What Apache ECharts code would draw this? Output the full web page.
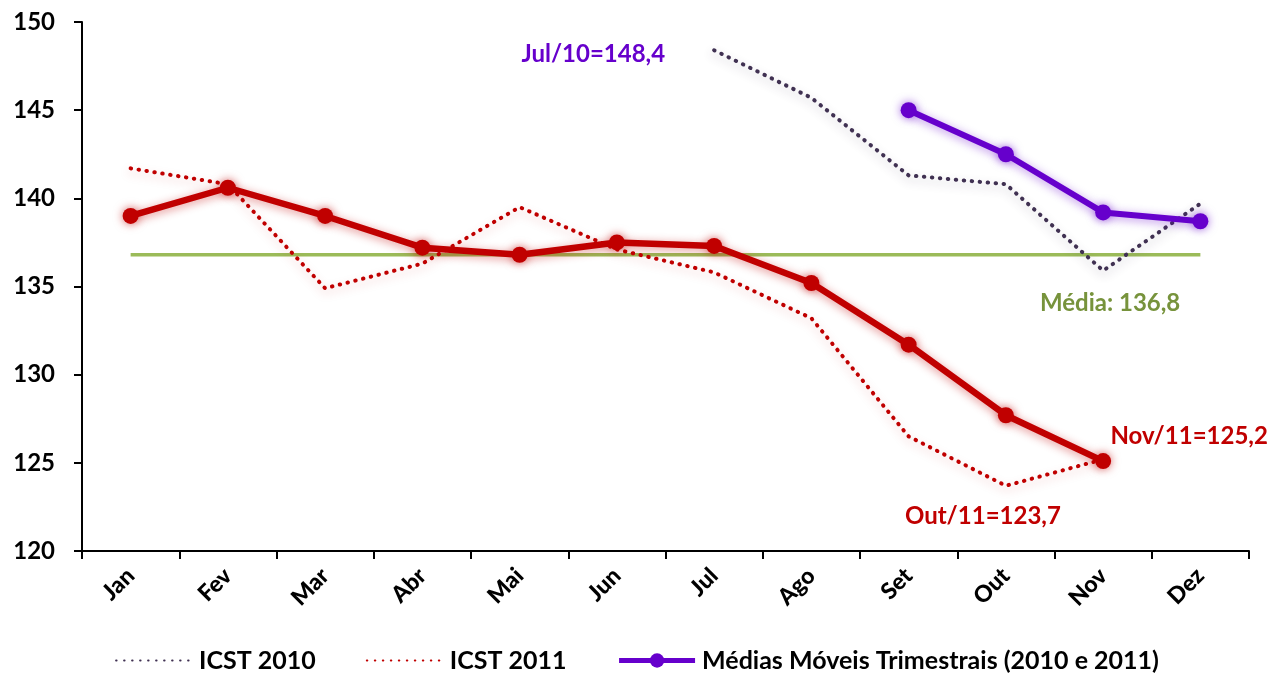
<!DOCTYPE html>
<html>
<head>
<meta charset="utf-8">
<script src="https://cdn.jsdelivr.net/npm/echarts@6/dist/echarts.min.js"></script>
<style>
html,body{margin:0;padding:0;background:#fff;}
#chart{width:1274px;height:675px;}
</style>
</head>
<body>
<div id="chart"></div>
<script>
var months = ['Jan','Fev','Mar','Abr','Mai','Jun','Jul','Ago','Set','Out','Nov','Dez'];
var icst2010 = [null,null,null,null,null,null,148.4,145.7,141.3,140.8,135.9,139.7];
var icst2011 = [141.7,140.8,134.9,136.3,139.5,137.1,135.8,133.2,126.5,123.7,125.2,null];
var mediaMovel2011 = [139.0,140.6,139.0,137.2,136.8,137.5,137.3,135.2,131.7,127.7,125.1,null];
var mediaMovel2010 = [null,null,null,null,null,null,null,null,145.0,142.5,139.2,138.7];
var mediaGeral = [136.8,136.8,136.8,136.8,136.8,136.8,136.8,136.8,136.8,136.8,136.8,136.8];
var yTicks = {min:120, max:150, interval:5};

var FONT = 'Lato';
var RED = '#c00000', PURPLE = '#6600cc', DARK = '#403152', GREEN = '#9bbb59', GREEN_TXT = '#77933c';
var MM = 'Médias Móveis Trimestrais (2010 e 2011)';

function labelAt(arr, idx, lbl){
  return arr.map(function(v,i){
    if(i===idx && v!=null){
      return {value:v, symbol:'circle', symbolSize:2, itemStyle:{color:'rgba(0,0,0,0)', borderWidth:0, shadowBlur:0}, label:lbl};
    }
    return v;
  });
}
var dotted = [0.5, 7.5];

var chart = echarts.init(document.getElementById('chart'));
chart.setOption({
  backgroundColor:'#fff',
  animation:false,
  textStyle:{fontFamily:FONT},
  grid:{left:82, right:25, top:22, bottom:124, containLabel:false},
  legend:{
    bottom:-3, left:'center',
    data:[
      {name:'ICST 2010', itemStyle:{color:'rgba(0,0,0,0)', borderWidth:0}},
      {name:'ICST 2011', itemStyle:{color:'rgba(0,0,0,0)', borderWidth:0}},
      {name:MM, lineStyle:{width:5}}
    ],
    itemWidth:76, itemHeight:18, itemGap:50,
    textStyle:{fontFamily:FONT, fontWeight:'bold', fontSize:25, color:'#000', padding:[0,0,0,2]}
  },
  xAxis:{
    type:'category', data:months, boundaryGap:true,
    axisLine:{lineStyle:{color:'#000', width:2}},
    axisTick:{show:true, length:8, lineStyle:{color:'#000', width:2}},
    axisLabel:{rotate:45, margin:21, fontFamily:FONT, fontWeight:900, fontSize:23, color:'#000'},
    splitLine:{show:false}
  },
  yAxis:{
    type:'value', min:yTicks.min, max:yTicks.max, interval:yTicks.interval,
    axisLine:{show:true, lineStyle:{color:'#000', width:2}},
    axisTick:{show:true, length:8, lineStyle:{color:'#000', width:2}},
    axisLabel:{margin:27, fontFamily:FONT, fontWeight:'bold', fontSize:24, color:'#000'},
    splitLine:{show:false}
  },
  series:[
    {
      name:'Média', type:'line', data:labelAt(mediaGeral, 10, {
        show:true, position:'bottom', distance:36, offset:[7,0],
        formatter:'Média: 136,8', color:GREEN_TXT, fontFamily:FONT, fontWeight:'bold', fontSize:24
      }),
      symbol:'none', showSymbol:true,
      lineStyle:{color:GREEN, width:3.5}, itemStyle:{color:GREEN},
      z:1, silent:true
    },
    {
      name:'ICST 2010', type:'line', data:labelAt(icst2010, 6, {
        show:true, position:'left', distance:48, offset:[0,4],
        formatter:'Jul/10=148,4', color:PURPLE, fontFamily:FONT, fontWeight:'bold', fontSize:24
      }),
      symbol:'none', showSymbol:true,
      lineStyle:{color:DARK, width:4, type:dotted, cap:'round', shadowColor:'rgba(64,49,82,0.3)', shadowBlur:10, shadowOffsetY:4},
      itemStyle:{color:DARK}, z:2
    },
    {
      name:'ICST 2011', type:'line', data:labelAt(icst2011, 9, {
        show:true, position:'bottom', distance:18, offset:[-23,0],
        formatter:'Out/11=123,7', color:RED, fontFamily:FONT, fontWeight:'bold', fontSize:24
      }),
      symbol:'none', showSymbol:true,
      lineStyle:{color:RED, width:4, type:dotted, cap:'round', shadowColor:'rgba(192,0,0,0.25)', shadowBlur:10, shadowOffsetY:4},
      itemStyle:{color:RED}, z:2
    },
    {
      name:MM, type:'line', data:mediaMovel2010,
      symbol:'circle', symbolSize:16, showSymbol:true,
      lineStyle:{color:PURPLE, width:6, shadowColor:'rgba(102,0,204,0.45)', shadowBlur:10, shadowOffsetY:2},
      itemStyle:{color:PURPLE, shadowColor:'rgba(102,0,204,0.6)', shadowBlur:10},
      z:3
    },
    {
      name:MM, type:'line', data:mediaMovel2011.map(function(v,i){
        if(i===10){ return {value:v, label:{
          show:true, position:'top', distance:5, offset:[86,0],
          formatter:'Nov/11=125,2', color:RED, fontFamily:FONT, fontWeight:'bold', fontSize:24
        }}; }
        return v;
      }),
      symbol:'circle', symbolSize:16, showSymbol:true,
      lineStyle:{color:RED, width:6.5, shadowColor:'rgba(192,0,0,0.45)', shadowBlur:10, shadowOffsetY:2},
      itemStyle:{color:RED, shadowColor:'rgba(192,0,0,0.6)', shadowBlur:10},
      z:3
    }
  ]
});
</script>
</body>
</html>
